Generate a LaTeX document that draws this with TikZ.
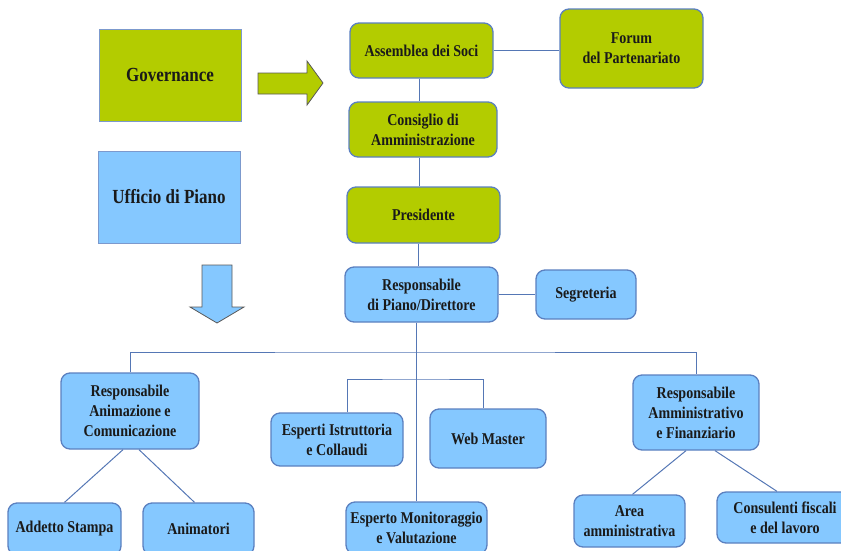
\documentclass[tikz,border=0pt]{standalone}
\usepackage{fontspec}
\setmainfont{Liberation Serif}[FakeStretch=0.85]
\begin{document}
\definecolor{govgreen}{HTML}{B3CC00}
\definecolor{officeblue}{HTML}{85C8FF}
\definecolor{edgeblue}{HTML}{5B80C0}
\definecolor{linkblue}{HTML}{5577B5}
\definecolor{inkdark}{HTML}{1A1A1A}
\begin{tikzpicture}[x=1pt,y=-1pt,
  box/.style={draw=edgeblue, line width=1.3pt, rounded corners=9pt, align=center,
    font=\fontsize{16.5}{20}\selectfont\bfseries, text=inkdark, inner sep=2pt},
  greenbox/.style={box, fill=govgreen},
  bluebox/.style={box, fill=officeblue},
  keybox/.style={draw=edgeblue!80, line width=0.9pt, align=center,
    font=\fontsize{20}{24}\selectfont\bfseries, text=inkdark,
    minimum width=142pt, minimum height=92pt},
  link/.style={draw=linkblue, line width=1pt},
  fatarrow/.style={draw=gray!70!black, line width=0.8pt, line join=miter}]
\useasboundingbox (0,0) rectangle (841,550);
\clip (0,0) rectangle (841,550);

% legend blocks and their arrows
\node[keybox, fill=govgreen] (gov) at (170,75) {Governance};
\node[keybox, fill=officeblue] (uff) at (169,197) {Ufficio di Piano};
\filldraw[fatarrow, fill=govgreen] (258,73) -- (307,73) -- (307,61) -- (323,83)
  -- (307,105) -- (307,94) -- (258,94) -- cycle;
\filldraw[fatarrow, fill=officeblue] (202,265) -- (232,265) -- (232,307) -- (244,307)
  -- (217,323) -- (190,307) -- (202,307) -- cycle;

% governance chain
\node[greenbox, minimum width=143pt, minimum height=55pt] (ass) at (421.5,50.5) {Assemblea dei Soci};
\node[greenbox, minimum width=143pt, minimum height=79pt] (forum) at (631.5,48.5) {Forum\\del Partenariato};
\node[greenbox, minimum width=148pt, minimum height=55pt] (cons) at (423,129.5) {Consiglio di\\Amministrazione};
\node[greenbox, minimum width=153pt, minimum height=56pt] (pres) at (423.5,215) {Presidente};

% office of the plan
\node[bluebox, minimum width=153pt, minimum height=55pt] (dir) at (421.5,294.5) {Responsabile\\di Piano/Direttore};
\node[bluebox, minimum width=100pt, minimum height=49pt] (seg) at (586,294.5) {Segreteria};
\node[bluebox, minimum width=138pt, minimum height=76pt] (ranim) at (130,411) {Responsabile\\Animazione e\\Comunicazione};
\node[bluebox, minimum width=132pt, minimum height=53pt] (esi) at (337,439.5) {Esperti Istruttoria\\e Collaudi};
\node[bluebox, minimum width=116pt, minimum height=59pt] (web) at (488,438.5) {Web Master};
\node[bluebox, minimum width=126pt, minimum height=75pt] (ramm) at (696,412.5) {Responsabile\\Amministrativo\\e Finanziario};
\node[bluebox, minimum width=113pt, minimum height=52pt] (add) at (64.5,529) {Addetto Stampa};
\node[bluebox, minimum width=111pt, minimum height=52pt] (anim) at (198.5,529) {Animatori};
\node[bluebox, minimum width=141pt, minimum height=52pt] (emon) at (416.5,528) {Esperto Monitoraggio\\e Valutazione};
\node[bluebox, minimum width=111pt, minimum height=52pt] (area) at (629.5,521) {Area\\amministrativa};
\node[bluebox, minimum width=136pt, minimum height=51pt] (cfis) at (785,517.5) {Consulenti fiscali\\e del lavoro};

% connectors
\coordinate (bus) at (416.5,352);
\coordinate (sub) at (416.5,379);
\draw[link] (ass.east) -- (forum.west |- ass.east);
\draw[link] (ass.south -| 419,0) -- (cons.north -| 419,0);
\draw[link] (cons.south -| 419,0) -- (pres.north -| 419,0);
\draw[link] (pres.south -| 418,0) -- (dir.north -| 418,0);
\draw[link] (dir.east) -- (seg.west |- dir.east);
\draw[link] (dir.south -| emon.north) -- (emon.north);
\draw[link] (ranim.north) |- (bus) -| (ramm.north);
\draw[link] ([xshift=10pt]esi.north) |- (sub) -| ([xshift=-5pt]web.north);
\draw[link] ([xshift=-7pt]ranim.south) -- (add.north);
\draw[link] ([xshift=9pt]ranim.south) -- ([xshift=-4pt]anim.north);
\draw[link] ([xshift=-10pt]ramm.south) -- ([xshift=3pt]area.north);
\draw[link] ([xshift=19pt]ramm.south) -- ([xshift=-8pt]cfis.north);
\end{tikzpicture}
\end{document}
